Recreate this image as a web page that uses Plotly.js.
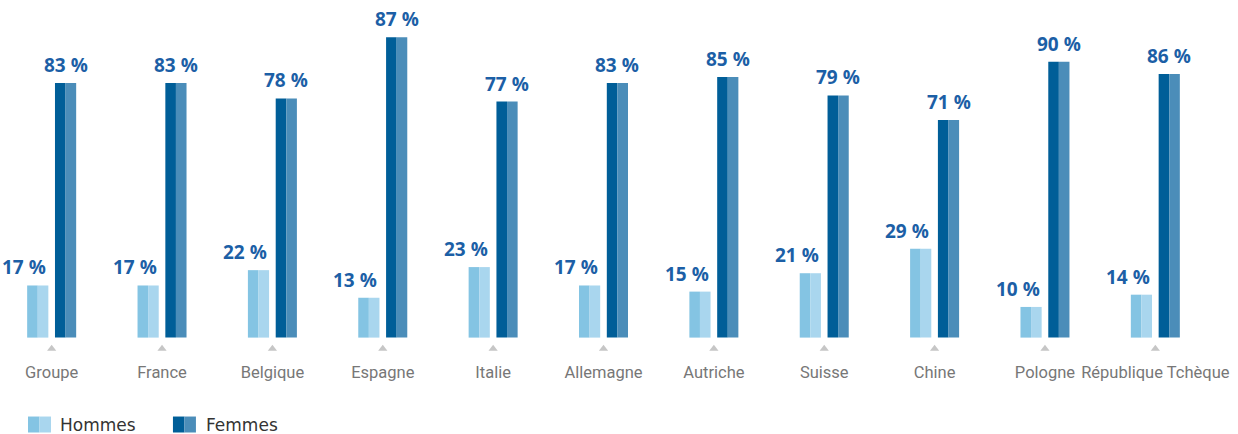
<!DOCTYPE html>
<html>
<head>
<meta charset="utf-8">
<script src="https://cdn.plot.ly/plotly-3.0.1.min.js"></script>
<style>html,body{margin:0;padding:0;background:#fff;}#chart{width:1238px;height:434px;}</style>
</head>
<body>
<div id="chart"></div>
<script>
const categories = ["Groupe", "France", "Belgique", "Espagne", "Italie", "Allemagne", "Autriche", "Suisse", "Chine", "Pologne", "République Tchèque"];
const hommesValues = [17, 17, 22, 13, 23, 17, 15, 21, 29, 10, 14];
const femmesValues = [83, 83, 78, 98, 77, 83, 85, 79, 71, 90, 86]; // bar heights as drawn
const hommesLabels = ["17 %", "17 %", "22 %", "13 %", "23 %", "17 %", "15 %", "21 %", "29 %", "10 %", "14 %"];
const femmesLabels = ["83 %", "83 %", "78 %", "87 %", "77 %", "83 %", "85 %", "79 %", "71 %", "90 %", "86 %"];
const seriesNames = ["Hommes", "Femmes"];

const C = {hL: "#84c4e3", hR: "#a9d6ee", fL: "#005e98", fR: "#4b8db9", label: "#1c5fa6", tick: "#777777", tri: "#c6c6c6"};
const W = 0.096;

function barTrace(vals, offset, color, name) {
  return {type: "bar", x: categories, y: vals, offset: offset, width: W,
          marker: {color: color, line: {width: 0}}, name: name, showlegend: false, hoverinfo: "skip"};
}

const traces = [
  barTrace(hommesValues, -0.222, C.hL, seriesNames[0]),
  barTrace(hommesValues, -0.126, C.hR, seriesNames[0]),
  barTrace(femmesValues, 0.030, C.fL, seriesNames[1]),
  barTrace(femmesValues, 0.126, C.fR, seriesNames[1]),
  {type: "scatter", mode: "markers", x: categories, y: categories.map(() => -3.6),
   marker: {symbol: "triangle-up", size: 8, color: C.tri, line: {width: 0}}, cliponaxis: false, showlegend: false, hoverinfo: "skip"}
];

const annotations = [];
const labelFont = {family: "Open Sans", size: 19, color: C.label, weight: 700};
categories.forEach((c, i) => {
  annotations.push({x: i - 0.03, y: hommesValues[i], xref: "x", yref: "y", text: "<b>" + hommesLabels[i] + "</b>",
    showarrow: false, xanchor: "right", yanchor: "bottom", yshift: 3, font: labelFont});
  annotations.push({x: i + 0.126, y: femmesValues[i], xref: "x", yref: "y", text: "<b>" + femmesLabels[i] + "</b>",
    showarrow: false, xanchor: "center", yanchor: "bottom", yshift: 3, font: labelFont});
});

// legend (pixel helpers -> paper coords)
const L = 2, PW = 1203.4, B = 356.4, PH = 325.4;
const px = v => (v - L) / PW, py = v => (B - v) / PH;
const shapes = [
  {type: "rect", xref: "paper", yref: "paper", x0: px(28), x1: px(39.5), y0: py(433), y1: py(417), fillcolor: C.hL, line: {width: 0}},
  {type: "rect", xref: "paper", yref: "paper", x0: px(39.5), x1: px(51), y0: py(433), y1: py(417), fillcolor: C.hR, line: {width: 0}},
  {type: "rect", xref: "paper", yref: "paper", x0: px(173), x1: px(184.5), y0: py(433), y1: py(417), fillcolor: C.fL, line: {width: 0}},
  {type: "rect", xref: "paper", yref: "paper", x0: px(184.5), x1: px(196), y0: py(433), y1: py(417), fillcolor: C.fR, line: {width: 0}}
];
const legFont = {family: "DejaVu Sans", size: 17, color: "#333333"};
annotations.push({x: px(58), y: py(425), xref: "paper", yref: "paper", text: seriesNames[0], showarrow: false, xanchor: "left", yanchor: "middle", font: legFont});
annotations.push({x: px(204.5), y: py(425), xref: "paper", yref: "paper", text: seriesNames[1], showarrow: false, xanchor: "left", yanchor: "middle", font: legFont});

const layout = {
  width: 1238, height: 434,
  margin: {l: 2, r: 32.6, t: 31, b: 77.6},
  paper_bgcolor: "#ffffff", plot_bgcolor: "#ffffff",
  barmode: "overlay",
  showlegend: false,
  font: {family: "Roboto"},
  xaxis: {type: "category", range: [-0.45, 10.45], showgrid: false, zeroline: false, showline: false,
          ticks: "outside", ticklen: 1, tickcolor: "rgba(0,0,0,0)",
          tickangle: 0, automargin: false,
          tickfont: {family: "Roboto", size: 16.5, color: C.tick}, fixedrange: true},
  yaxis: {range: [-6, 100], showgrid: false, zeroline: false, showline: false, showticklabels: false, ticks: "", fixedrange: true},
  annotations: annotations,
  shapes: shapes
};

Plotly.newPlot("chart", traces, layout, {staticPlot: true, displayModeBar: false});
</script>
</body>
</html>
